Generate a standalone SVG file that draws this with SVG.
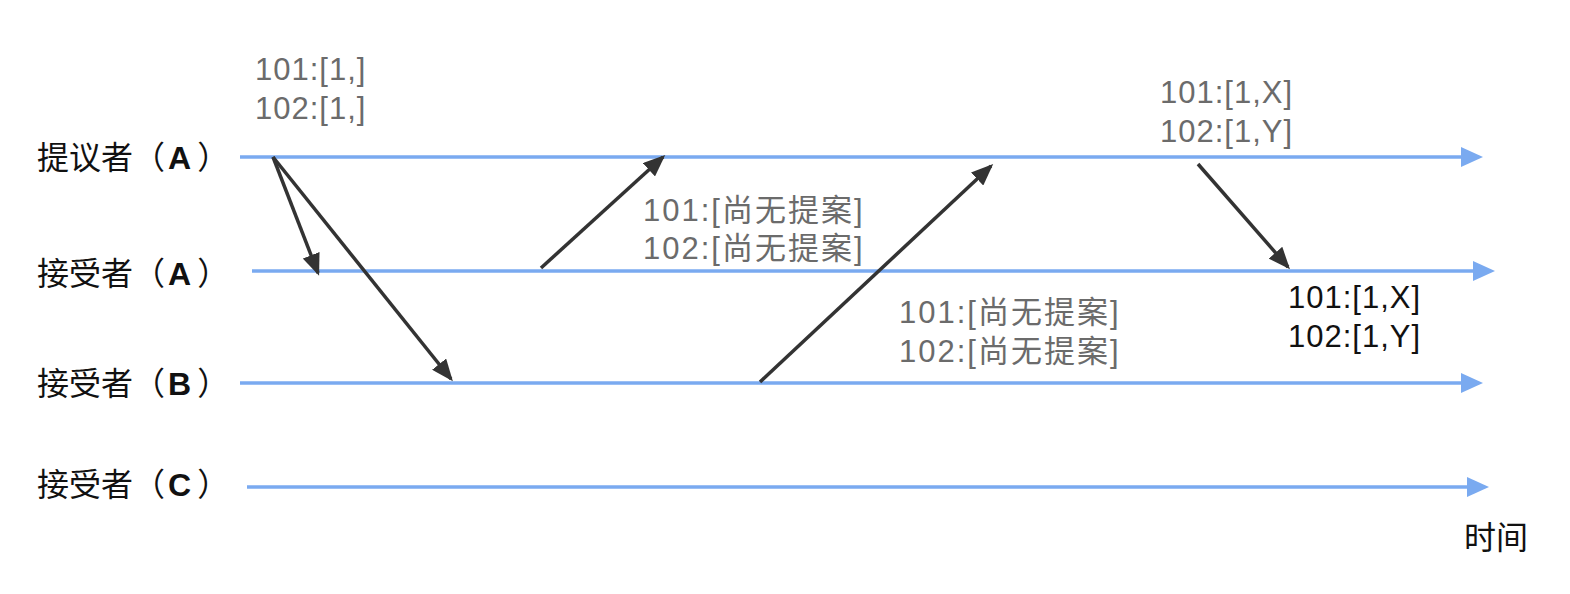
<svg xmlns="http://www.w3.org/2000/svg" width="1570" height="594" viewBox="0 0 1570 594">
<defs>
<marker id="blueHead" markerUnits="userSpaceOnUse" markerWidth="22" markerHeight="22" viewBox="0 0 22 20" refX="2" refY="10" orient="auto">
<path d="M0,0 L22,10 L0,20 z" fill="#7aaaf0"/>
</marker>
<marker id="darkHead" markerUnits="userSpaceOnUse" markerWidth="22" markerHeight="18" viewBox="0 0 22 18" refX="19" refY="9" orient="auto">
<path d="M0,0 L22,9 L0,18 z" fill="#333333"/>
</marker>
</defs>
<style>
.lbl{font-family:"Noto Sans CJK SC","Liberation Sans",sans-serif;font-size:32px;fill:#111}
.lbl tspan.b{font-family:"Liberation Sans","Noto Sans CJK SC",sans-serif;font-weight:bold}
.val{font-family:"Liberation Sans","Noto Sans CJK SC",sans-serif;font-size:31px;fill:#6b6b6b;letter-spacing:1px}
.cjk{font-family:"Liberation Sans","Noto Sans CJK SC",sans-serif;font-size:31px;fill:#6b6b6b;letter-spacing:2px}
.valk{font-family:"Liberation Sans","Noto Sans CJK SC",sans-serif;font-size:31px;fill:#111;letter-spacing:1px}
.tl{stroke:#7aaaf0;stroke-width:3.5;fill:none;marker-end:url(#blueHead)}
.msg{stroke:#333333;stroke-width:3.5;fill:none;marker-end:url(#darkHead)}
</style>
<g id="timelines">
<g id="proposerA"><line class="tl" x1="240" y1="157" x2="1463" y2="157"/><text class="lbl" x="37" y="169">提议者（<tspan class="b" dx="3">A</tspan><tspan dx="6">）</tspan></text></g>
<g id="acceptorA"><line class="tl" x1="252" y1="271" x2="1475" y2="271"/><text class="lbl" x="37" y="285">接受者（<tspan class="b" dx="3">A</tspan><tspan dx="6">）</tspan></text></g>
<g id="acceptorB"><line class="tl" x1="240" y1="383" x2="1463" y2="383"/><text class="lbl" x="37" y="395">接受者（<tspan class="b" dx="3">B</tspan><tspan dx="6">）</tspan></text></g>
<g id="acceptorC"><line class="tl" x1="247" y1="487" x2="1469" y2="487"/><text class="lbl" x="37" y="496">接受者（<tspan class="b" dx="3">C</tspan><tspan dx="6">）</tspan></text></g>
<g id="time"><text class="lbl" x="1464" y="549">时间</text></g>
</g>
<g id="connectors">
<line class="msg" x1="273" y1="157" x2="318" y2="273"/>
<line class="msg" x1="273" y1="157" x2="451" y2="379"/>
<line class="msg" x1="541" y1="268" x2="663" y2="157"/>
<line class="msg" x1="760" y1="382" x2="991" y2="166"/>
<line class="msg" x1="1198" y1="164" x2="1288" y2="267"/>
</g>
<g id="labels">
<g id="v1"><text class="val" x="255" y="80">101:[1,]</text><text class="val" x="255" y="119">102:[1,]</text></g>
<g id="v2"><text class="cjk" x="643" y="221">101:[尚无提案]</text><text class="cjk" x="643" y="259">102:[尚无提案]</text></g>
<g id="v3"><text class="cjk" x="899" y="323">101:[尚无提案]</text><text class="cjk" x="899" y="362">102:[尚无提案]</text></g>
<g id="v4"><text class="val" x="1160" y="103">101:[1,X]</text><text class="val" x="1160" y="142">102:[1,Y]</text></g>
<g id="v5"><text class="valk" x="1288" y="308">101:[1,X]</text><text class="valk" x="1288" y="347">102:[1,Y]</text></g>
</g>
</svg>
